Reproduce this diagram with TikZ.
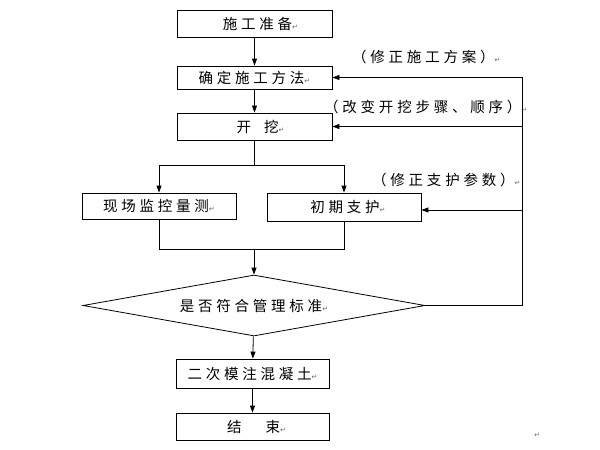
\documentclass[tikz,border=0pt]{standalone}
\usepackage{fontspec}
\usetikzlibrary{arrows.meta,shapes.geometric}
\newfontfamily\cjk[LetterSpace=26]{Noto Sans CJK SC}
\newfontfamily\dejavu{DejaVu Sans}
\newcommand{\ret}{{\dejavu\fontsize{7}{7}\selectfont\textcolor{black!60}{↵}}}
\tikzset{
  box/.style={draw, line width=0.8pt, inner sep=0pt, font=\cjk\fontsize{14.5}{15}\selectfont},
  lbl/.style={inner sep=0pt, anchor=west, font=\cjk\fontsize{14.5}{15}\selectfont},
  ln/.style={line width=0.8pt},
  arr/.style={line width=0.8pt, -{Triangle[length=7pt,width=5pt]}},
}
\begin{document}
\begin{tikzpicture}[x=1pt,y=-1pt]
\useasboundingbox (0,0) rectangle (600,450);
\node[box, minimum width=155pt, minimum height=27pt] (b1) at (254.5,23.5) {\hspace*{12pt}施工准备\ret};
\node[box, minimum width=155pt, minimum height=23pt] (b2) at (254.5,77.5) {确定施工方法\ret};
\node[box, minimum width=155pt, minimum height=27pt] (b3) at (254.5,126.5) {\hspace*{12pt}开\hspace{13pt}挖\ret};
\node[box, minimum width=154pt, minimum height=26pt] (m) at (159,206) {现场监控量测\ret};
\node[box, minimum width=154pt, minimum height=28pt] (s) at (344,207) {\hspace*{8pt}初期支护\ret};
\node[draw, line width=0.8pt, diamond, aspect=5.6, inner sep=0pt, minimum width=342pt, minimum height=61pt, font=\cjk\fontsize{14.5}{15}\selectfont] (d) at (254,305.5) {是否符合管理标准\ret};
\node[box, minimum width=153pt, minimum height=29pt] (b6) at (252.5,373.5) {二次模注混凝土\ret};
\node[box, minimum width=153pt, minimum height=27pt] (b7) at (252.5,426.5) {\hspace*{8pt}结\hspace{24pt}束\ret};
\node[lbl] (t1) at (352,57) {（修正施工方案）\ret};
\node[lbl] (t2) at (324,107) {（改变开挖步骤、顺序）\ret};
\node[lbl] (t3) at (372,180) {（修正支护参数）\ret};
\node[inner sep=0pt] (r) at (537,435) {\ret};
\coordinate (split) at (254.5,165);
\coordinate (sl) at (159,165);
\coordinate (sr) at (344,165);
\coordinate (jl) at (159,249);
\coordinate (jr) at (344,249);
\coordinate (jm) at (254,249);
\coordinate (c1) at (522,305.5);
\coordinate (c2) at (522,77.5);
\coordinate (c3) at (522,126.5);
\coordinate (c4) at (522,210);
\draw[arr] (b1) -- (b2);
\draw[arr] (b2) -- (b3);
\draw[ln] (b3) -- (split);
\draw[arr] (split) -- (sl) -- (m);
\draw[arr] (split) -- (sr) -- (s);
\draw[ln] (m) -- (jl) -- (jr) -- (s);
\draw[arr] (jm) -- (d);
\draw[arr] (d) -- (b6);
\draw[arr] (b6) -- (b7);
\draw[arr] (d.east) -- (c1) -- (c2) -- (b2.east);
\draw[arr] (c3) -- (b3.east);
\draw[arr] (c4) -- (s.east |- c4);
\end{tikzpicture}
\end{document}
